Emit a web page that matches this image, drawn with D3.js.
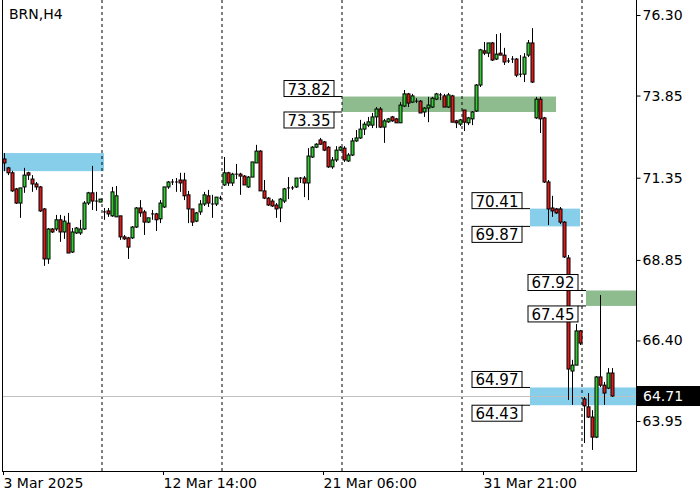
<!DOCTYPE html>
<html><head><meta charset="utf-8">
<script src="https://cdn.jsdelivr.net/npm/d3@7"></script>
<style>body{margin:0;background:#fff}svg{display:block}text{font-family:"DejaVu Sans",sans-serif}</style>
</head><body><svg id="c" width="700" height="500"></svg>
<script>
const symbolTitle = "BRN,H4";
const opens = [71.92,71.65,71.50,71.01,70.58,71.07,71.50,71.31,71.16,71.07,70.40,68.88,69.79,69.79,70.07,69.70,69.97,69.09,69.67,69.67,69.79,70.58,70.89,70.64,70.61,70.31,70.34,70.19,70.16,70.19,69.55,69.52,69.52,69.85,70.43,70.31,70.00,70.25,70.25,70.10,70.46,71.07,71.22,71.22,71.28,71.28,70.83,70.40,70.03,70.31,70.55,70.80,70.55,70.55,70.73,71.13,71.50,71.19,71.46,71.46,71.40,71.07,71.37,71.80,72.16,70.95,70.73,70.64,70.52,70.43,70.64,71.01,71.04,71.07,71.34,71.34,71.19,71.98,72.28,72.50,72.44,72.28,71.68,71.89,72.19,72.25,71.86,72.04,72.47,72.56,72.83,72.95,72.95,73.20,73.44,72.89,73.05,73.20,73.14,73.02,73.53,73.90,73.65,73.68,73.68,73.35,73.47,73.50,73.74,73.87,73.84,73.50,73.84,73.08,72.98,73.41,73.02,73.14,73.38,74.17,75.21,75.14,75.45,74.96,75.14,75.08,74.90,74.96,74.96,74.50,74.50,75.08,75.45,73.17,73.74,73.17,71.22,70.43,70.40,70.40,70.00,68.91,65.47,65.65,66.69,64.62,64.38,64.07,63.46,65.29,65.04,64.95,65.41];
const highs = [72.10,71.68,71.56,71.04,71.04,71.65,71.53,71.43,71.22,71.10,70.43,69.82,69.82,70.22,70.22,70.19,70.28,69.82,69.85,70.07,70.64,70.92,71.71,70.92,70.70,70.43,70.43,71.07,71.10,70.19,69.61,69.55,69.88,70.46,70.67,70.37,70.13,70.37,70.28,70.67,71.07,71.25,71.31,71.34,71.50,71.50,70.95,70.40,70.31,70.67,70.92,70.98,70.83,70.76,70.80,71.98,71.53,71.50,71.77,71.50,71.43,71.40,71.83,72.35,72.19,71.28,70.76,70.70,70.58,70.73,71.04,71.37,71.10,71.34,71.37,71.40,72.25,72.31,72.40,72.56,72.47,72.31,71.98,72.31,72.31,72.31,72.10,72.56,72.80,73.11,73.05,73.20,73.32,73.50,73.50,73.14,73.17,73.23,73.17,73.65,74.02,73.93,73.90,73.77,73.71,73.50,73.81,73.81,73.93,73.93,73.90,73.93,73.87,73.11,73.14,73.41,73.20,73.38,74.20,75.27,75.48,75.45,75.48,75.72,75.75,75.30,74.99,75.05,74.99,75.08,75.14,75.54,75.90,73.81,73.81,73.20,71.28,70.80,70.43,70.46,70.03,69.00,65.81,66.90,66.72,64.68,64.80,64.28,65.32,67.78,65.14,65.56,65.56];
const lows = [71.55,71.43,70.92,70.55,70.13,70.89,71.28,70.92,70.98,70.31,68.67,68.73,69.67,69.73,69.40,69.49,69.06,69.06,69.64,69.61,69.76,70.52,70.37,70.34,70.61,70.07,70.16,70.16,70.16,69.46,69.46,68.88,69.49,69.82,70.16,69.61,69.97,70.07,69.73,69.97,70.43,71.01,71.13,70.92,70.92,70.67,69.97,69.88,70.00,70.22,70.49,70.46,70.13,70.49,70.67,71.10,71.10,71.10,71.31,70.83,71.13,71.04,71.37,71.80,70.95,70.70,70.49,70.46,70.13,70.00,70.58,70.70,70.98,71.04,71.19,70.76,70.67,71.95,72.25,72.35,72.16,71.65,71.62,71.83,72.16,71.83,71.83,72.01,72.44,72.53,72.65,72.89,72.86,72.86,72.86,72.41,73.02,73.05,73.02,73.02,73.50,73.50,73.62,73.62,73.32,73.20,73.04,73.47,73.71,73.71,73.50,73.47,73.04,72.86,72.92,72.77,72.95,72.95,73.35,74.11,75.08,75.02,74.90,74.93,75.08,74.78,74.84,74.84,74.41,74.41,74.26,75.02,74.23,73.14,72.71,71.19,69.91,70.16,70.25,69.94,68.91,64.59,64.44,65.65,66.26,63.28,64.04,63.07,63.43,64.98,64.44,64.92,64.68];
const closes = [71.80,71.50,70.95,70.58,71.04,71.43,71.43,71.16,71.07,70.34,68.88,69.79,69.70,70.07,69.70,70.03,69.06,69.70,69.82,69.79,70.58,70.89,70.64,70.62,70.70,70.31,70.25,70.92,70.80,69.55,69.49,69.24,69.85,70.43,70.28,70.00,70.13,70.25,70.07,70.58,71.07,71.22,71.22,71.22,71.19,70.80,70.40,70.00,70.28,70.55,70.83,70.58,70.55,70.76,70.73,71.50,71.19,71.46,71.46,71.40,71.13,71.37,71.83,72.16,70.95,70.73,70.52,70.49,70.40,70.70,71.01,71.04,71.04,71.34,71.34,71.19,72.01,72.28,72.37,72.37,72.19,71.68,71.89,72.19,72.28,71.89,72.04,72.47,72.56,72.83,72.98,73.05,73.20,73.44,72.89,73.08,73.14,73.08,73.02,73.56,73.90,73.62,73.84,73.68,73.32,73.47,73.56,73.77,73.90,73.87,73.50,73.87,73.04,73.02,73.11,73.04,73.17,73.35,74.17,75.24,75.14,75.45,74.93,75.11,75.08,74.87,74.90,74.96,74.47,74.50,75.02,75.45,74.26,73.74,73.14,71.22,70.40,70.34,70.28,70.00,68.94,65.53,65.65,66.69,66.32,64.41,64.07,63.46,65.29,65.04,64.80,65.41,64.71];
const priceTicks = [76.30,73.85,71.35,68.85,66.40,63.95];
const timeLabels = ["3 Mar 2025","12 Mar 14:00","21 Mar 06:00","31 Mar 21:00"];
const timeLabelBars = [0,40,80,120];
const separatorBars = [25,55,85,115,145];
const lastPrice = 64.71;
// zones: [startBar, endBar, high, low, kind, labelled]
const zoneStart = [0,85,132,146,132];
const zoneEnd   = [25,138,144,158,158];
const zoneHigh  = [72.10,73.82,70.41,67.92,64.97];
const zoneLow   = [71.55,73.35,69.87,67.45,64.43];
const zoneKind  = ["s","d","s","d","s"];
const zoneLabel = [false,true,true,true,true];

const svg = d3.select("#c");
const L=3, R=636, T=0, B=471;
const n = closes.length;
const x = d3.scaleLinear().domain([0,1]).range([L+1, L+5]);
const y = d3.scaleLinear().domain([63.95,76.30]).range([421,15]);
const xe = i => x(i);
const colors = {s:"#87ceeb", d:"#8fbc8f"};

// zones
zoneStart.forEach((s,k)=>{
  const x0 = k===0 ? L : xe(s)-2, x1 = k>=3 ? R : xe(zoneEnd[k]);
  svg.append("rect").attr("x",x0).attr("y",y(zoneHigh[k])).attr("width",x1-x0)
    .attr("height",y(zoneLow[k])-y(zoneHigh[k])).attr("fill",colors[zoneKind[k]]);
});
// separators
separatorBars.forEach(b=>{
  svg.append("line").attr("x1",xe(b)-2).attr("x2",xe(b)-2).attr("y1",T).attr("y2",B)
    .attr("stroke","#000").attr("stroke-dasharray","3,3").attr("stroke-width",1);
});
// last price line
svg.append("line").attr("x1",L).attr("x2",R).attr("y1",y(lastPrice)+0.5).attr("y2",y(lastPrice)+0.5).attr("stroke","#c0c0c0");
// candles
const g = svg.append("g");
for(let i=0;i<n;i++){
  const cx = Math.round(xe(i))+0.5;
  g.append("line").attr("x1",cx).attr("x2",cx).attr("y1",y(highs[i])).attr("y2",y(lows[i])).attr("stroke","#000");
  const top = y(Math.max(opens[i],closes[i])), bot = y(Math.min(opens[i],closes[i]));
  if(bot-top<1.5){
    g.append("line").attr("x1",cx-1.5).attr("x2",cx+1.5).attr("y1",top).attr("y2",top).attr("stroke","#000");
  } else {
    g.append("rect").attr("x",cx-1.5).attr("y",top).attr("width",3).attr("height",bot-top)
      .attr("fill",closes[i]>=opens[i]?"#32cd32":"#e31a1c").attr("stroke","#000").attr("stroke-width",1);
  }
}
// zone labels
zoneStart.forEach((s,k)=>{
  if(!zoneLabel[k]) return;
  const zx = k===3 ? xe(s)-2 : (k===1? xe(s)-2 : xe(s)-2);
  const bx = zx - 58, bw = 50;
  [zoneHigh[k],zoneLow[k]].forEach((p,j)=>{
    const yy = y(p);
    const by = j===0 ? yy-16 : yy;
    svg.append("line").attr("x1",bx+bw).attr("x2",zx).attr("y1",yy).attr("y2",yy).attr("stroke","#000");
    svg.append("rect").attr("x",bx).attr("y",by).attr("width",bw).attr("height",16).attr("fill","#fff").attr("stroke","#000");
    svg.append("text").attr("x",bx+bw/2).attr("y",by+14).attr("text-anchor","middle").attr("font-size",15).text(p.toFixed(2));
  });
});
// frame
svg.append("line").attr("x1",L-0.5).attr("x2",L-0.5).attr("y1",T).attr("y2",B).attr("stroke","#000");
svg.append("line").attr("x1",R+0.5).attr("x2",R+0.5).attr("y1",T).attr("y2",B).attr("stroke","#000");
svg.append("line").attr("x1",L-1).attr("x2",R+1).attr("y1",B+0.5).attr("y2",B+0.5).attr("stroke","#000");
// price axis
const ya = d3.axisRight(y).tickValues(priceTicks).tickFormat(d3.format(".2f")).tickSize(4).tickSizeOuter(0);
const ag = svg.append("g").attr("transform",`translate(${R+0.5},0)`).call(ya);
ag.select(".domain").remove();
ag.selectAll("text").attr("font-size",14).attr("font-family","DejaVu Sans").attr("fill","#000").attr("x",6);
// last price box
svg.append("rect").attr("x",R+1).attr("y",y(lastPrice)-10).attr("width",64).attr("height",20).attr("fill","#000");
svg.append("text").attr("x",R+7).attr("y",y(lastPrice)+5).attr("font-size",14).attr("fill","#fff").text(lastPrice.toFixed(2));
// time axis
timeLabelBars.forEach((b,k)=>{
  const tx = Math.round(xe(b))-0.5;
  svg.append("line").attr("x1",tx).attr("x2",tx).attr("y1",B).attr("y2",B+4).attr("stroke","#000");
  svg.append("text").attr("x",tx+0).attr("y",B+17).attr("font-size",14).text(timeLabels[k]);
});
svg.append("text").attr("x",9).attr("y",19).attr("font-size",14).text(symbolTitle);
</script></body></html>
